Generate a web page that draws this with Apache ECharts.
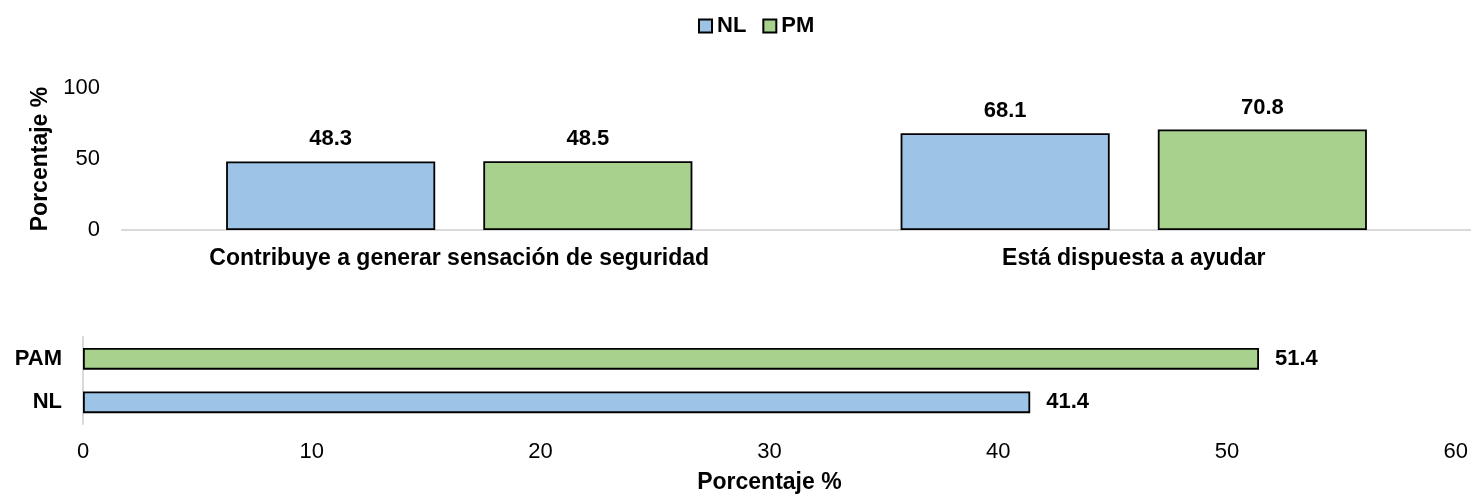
<!DOCTYPE html>
<html>
<head>
<meta charset="utf-8">
<script src="https://cdn.jsdelivr.net/npm/echarts@6/dist/echarts.min.js"></script>
<style>
  html, body { margin: 0; padding: 0; background: #fff; }
  #chart { width: 1471px; height: 499px; }
</style>
</head>
<body>
<div id="chart"></div>
<script>
const topCategories = ['Contribuye a generar sensación de seguridad', 'Está dispuesta a ayudar'];
const nlValues = [48.3, 68.1];
const pmValues = [48.5, 70.8];
const topTicks = { min: 0, max: 100, interval: 50 };

const bottomCategories = ['NL', 'PAM'];
const bottomValues = [41.4, 51.4];
const bottomTicks = { min: 0, max: 60, interval: 10 };

const BLUE = '#9dc3e6';
const GREEN = '#a9d18e';
const bottomColors = [BLUE, GREEN];
const FONT = '"Liberation Sans", Arial, sans-serif';

const chart = echarts.init(document.getElementById('chart'));

const barBorder = { borderColor: '#000', borderWidth: 1.8 };
const valueLabel = (pos, dist) => ({
  show: true,
  position: pos,
  distance: dist,
  color: '#000',
  fontWeight: 'bold',
  fontSize: 22,
  fontFamily: FONT,
  formatter: p => p.value.toFixed(1)
});

chart.setOption({
  animation: false,
  textStyle: { fontFamily: FONT },
  legend: {
    data: ['NL', 'PM'],
    top: 10,
    left: 693,
    itemWidth: 13,
    itemHeight: 13,
    itemGap: 16,
    icon: 'rect',
    textStyle: { fontSize: 22, fontWeight: 'bold', color: '#000', fontFamily: FONT }
  },
  grid: [
    { left: 122, top: 88, width: 1352, height: 142, containLabel: false },
    { left: 83, top: 337, width: 1378, height: 87, containLabel: false }
  ],
  xAxis: [
    {
      gridIndex: 0,
      type: 'category',
      data: topCategories,
      axisLine: { lineStyle: { color: '#d9d9d9', width: 2 } },
      axisTick: { show: false },
      axisLabel: { margin: 17, fontSize: 23, fontWeight: 'bold', color: '#000', fontFamily: FONT }
    },
    {
      gridIndex: 1,
      type: 'value',
      min: bottomTicks.min,
      max: bottomTicks.max,
      interval: bottomTicks.interval,
      name: 'Porcentaje %',
      nameLocation: 'middle',
      nameGap: 47,
      nameTextStyle: { fontSize: 23, fontWeight: 'bold', color: '#000', fontFamily: FONT },
      axisLine: { show: false },
      axisTick: { show: false },
      splitLine: { show: false },
      axisLabel: { margin: 17, fontSize: 22, color: '#000', fontFamily: FONT }
    }
  ],
  yAxis: [
    {
      gridIndex: 0,
      type: 'value',
      min: topTicks.min,
      max: topTicks.max,
      interval: topTicks.interval,
      name: 'Porcentaje %',
      nameLocation: 'middle',
      nameRotate: 90,
      nameGap: 70,
      nameTextStyle: { fontSize: 23, fontWeight: 'bold', color: '#000', fontFamily: FONT },
      axisLine: { show: false },
      axisTick: { show: false },
      splitLine: { show: false },
      axisLabel: { margin: 22, fontSize: 22, color: '#000', fontFamily: FONT }
    },
    {
      gridIndex: 1,
      type: 'category',
      data: bottomCategories,
      axisLine: { lineStyle: { color: '#d9d9d9', width: 2 } },
      axisTick: { show: false },
      axisLabel: { margin: 21, fontSize: 22, fontWeight: 'bold', color: '#000', fontFamily: FONT }
    }
  ],
  series: [
    {
      name: 'NL',
      type: 'bar',
      xAxisIndex: 0,
      yAxisIndex: 0,
      data: nlValues,
      barWidth: '31%',
      barGap: '23%',
      itemStyle: Object.assign({ color: BLUE }, barBorder),
      label: valueLabel('top', 11)
    },
    {
      name: 'PM',
      type: 'bar',
      xAxisIndex: 0,
      yAxisIndex: 0,
      data: pmValues,
      barWidth: '31%',
      barGap: '23%',
      itemStyle: Object.assign({ color: GREEN }, barBorder),
      label: valueLabel('top', 11)
    },
    {
      name: 'bottom',
      type: 'bar',
      xAxisIndex: 1,
      yAxisIndex: 1,
      data: bottomValues,
      barWidth: '50%',
      itemStyle: Object.assign({ color: p => bottomColors[p.dataIndex] }, barBorder),
      label: valueLabel('right', 16)
    }
  ]
});
</script>
</body>
</html>
